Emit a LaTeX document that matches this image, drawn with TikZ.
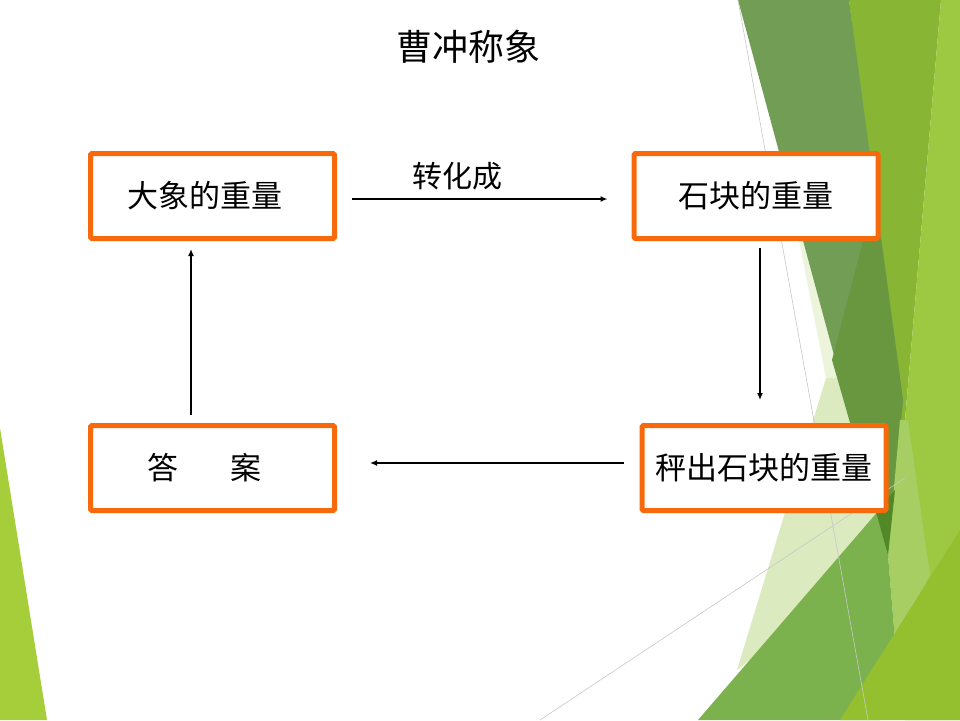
\documentclass[tikz,border=0pt]{standalone}
\usepackage{fontspec}
\newfontfamily\cjk{Noto Sans CJK SC}
\usetikzlibrary{arrows.meta}

\definecolor{boxorange}{RGB}{247,105,10}
\definecolor{facetpale}{RGB}{220,234,192}
\definecolor{facetwhisper}{RGB}{236,244,220}
\definecolor{facetdark}{RGB}{113,157,85}
\definecolor{facetdeep}{RGB}{104,151,64}
\definecolor{facetmid}{RGB}{124,178,78}
\definecolor{facetbright}{RGB}{137,181,52}
\definecolor{facetlime}{RGB}{156,200,66}
\definecolor{facetlight}{RGB}{166,206,98}
\definecolor{facetgrass}{RGB}{148,192,48}
\definecolor{facettip}{RGB}{82,136,40}

\begin{document}
\begin{tikzpicture}[
  x=1pt, y=-1pt,
  stage/.style={draw=boxorange, line width=5pt, fill=white, rounded corners=1.5pt,
    minimum width=244pt, minimum height=85pt, inner sep=0pt,
    font=\cjk\fontsize{31}{36}\selectfont},
  flow/.style={-{Latex[length=7pt,width=6pt]}, line width=1.8pt},
  hair/.style={draw=black!22, line width=0.6pt}
]
  \useasboundingbox (0,0) rectangle (960,720);

  % Facet background, right side
  \fill[facetwhisper] (797,230) -- (860,230) -- (860,420) -- (826,378) -- cycle;
  \fill[facetpale] (826,378) -- (900,378) -- (900,540) -- (737,670) -- cycle;
  \fill[facetbright] (849,0) -- (941,0) -- (905,420) -- (900,420) -- cycle;
  \fill[facetlime] (941,0) -- (960,0) -- (960,720) -- (905,720) -- (905,420) -- cycle;
  \fill[facetdark] (738,0) -- (849,0) -- (903,400) -- (888,555) -- cycle;
  \fill[facetdeep] (875,195) -- (903,400) -- (888,555) -- (832,360) -- cycle;
  \fill[facetlight] (900,420) -- (908,420) -- (930,575) -- (895,640) -- (888,555) -- cycle;
  \fill[facetmid] (698,720) -- (886,502) -- (888,555) -- (895,640) -- (880,720) -- cycle;
  \fill[facetgrass] (840,720) -- (960,530) -- (960,720) -- cycle;
  \fill[facettip] (876,512) -- (895,490) -- (888,555) -- cycle;
  \draw[hair] (738,0) -- (868,720);
  \draw[hair] (540,720) -- (905,478);

  % Facet background, left side
  \fill[facetlime!90!yellow] (0,428) -- (47,720) -- (0,720) -- cycle;

  % Title
  \node[font=\cjk\fontsize{36}{40}\selectfont] (title) at (468,47) {曹冲称象};

  % Stages
  \node[stage] (elephant) at (212.5,196) {\hspace*{-16pt}大象的重量};
  \node[stage] (stone) at (756,196) {石块的重量};
  \node[stage] (weigh) at (764,468) {秤出石块的重量};
  \node[stage] (answer) at (212.5,468) {\hspace*{-16pt}答\hspace{1.65em}案};

  % Connectors
  \draw[flow] ([xshift=15pt,yshift=-3pt]elephant.east) -- ([xshift=-24pt,yshift=-3pt]stone.west)
    node[midway, xshift=-22pt, yshift=23pt, font=\cjk\fontsize{30}{34}\selectfont] (turn) {转化成};
  \draw[flow] ([xshift=4pt,yshift=-7pt]stone.south) -- ([xshift=-4pt,yshift=23pt]weigh.north);
  \draw[flow] ([xshift=-16pt,yshift=5pt]weigh.west) -- ([xshift=33pt,yshift=5pt]answer.east);
  \draw[flow] ([xshift=-21.5pt,yshift=8pt]answer.north) -- ([xshift=-21.5pt,yshift=-8pt]elephant.south);
\end{tikzpicture}
\end{document}
